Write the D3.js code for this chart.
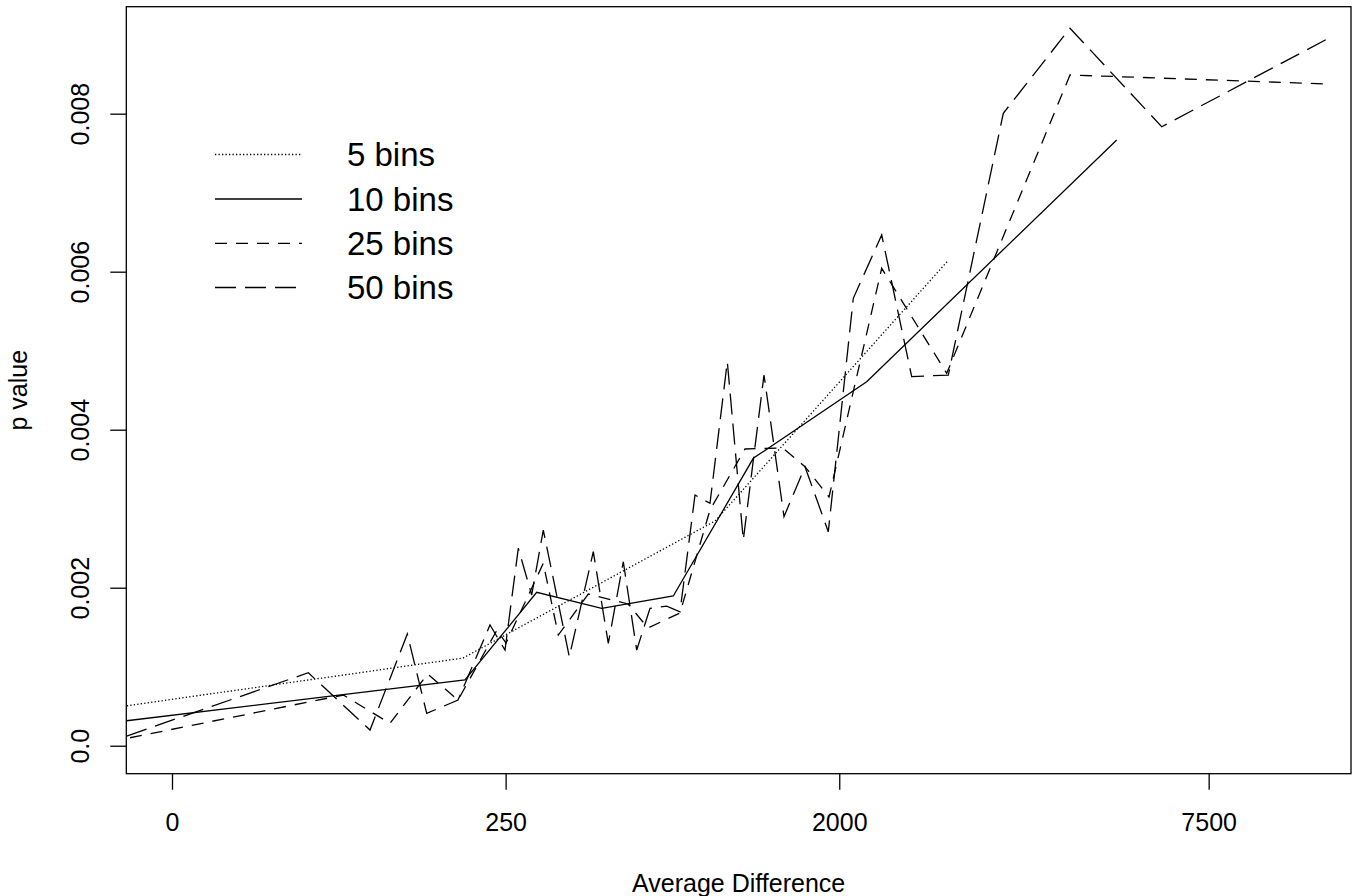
<!DOCTYPE html>
<html><head><meta charset="utf-8">
<script src="https://cdn.jsdelivr.net/npm/d3@7"></script>
<style>
body{margin:0;background:#fff}
svg{display:block}
text{font-family:"Liberation Sans",Arial,Helvetica,sans-serif;fill:#000}
</style>
</head><body>
<svg id="chart" width="1354" height="896"></svg>
<script>
// ---- data ----
const xTicks = [0, 250, 2000, 7500];
const yTicks = [0, 0.002, 0.004, 0.006, 0.008];
const yTickLabels = ["0.0", "0.002", "0.004", "0.006", "0.008"];
const xLimits = [-0.6425, 11033];
const yLimits = [-0.000354, 0.009354];
const seriesNames = ["5 bins", "10 bins", "25 bins", "50 bins"];

const bins5X = [-0.62, 165.9, 1077.9, 3142.3];
const bins5P = [0.000506, 0.001110, 0.002844, 0.006135];

const bins10X = [-0.626, 169.3, 326.6, 534.1, 848.1, 1322.3, 2257, 5676];
const bins10P = [0.000316, 0.000832, 0.001942, 0.001739, 0.001895, 0.003638, 0.004608, 0.007667];

const bins25X = [-0.499, 33.84, 69.74, 112.55, 157.49, 231.1, 250.84, 344.62, 388.09, 485.72, 638.35,
                 726.06, 882.55, 1048.3, 1266.5, 1535.6, 1707.5, 1909.2, 2406.5, 3130.1, 4875.1, 10365];
const bins25P = [0.000101, 0.000642, 0.000284, 0.000908, 0.000578, 0.001465, 0.001300, 0.002309, 0.001401, 0.001920, 0.001794,
                 0.001490, 0.001680, 0.002984, 0.003756, 0.003768, 0.003532, 0.003148, 0.006043, 0.004714, 0.008490, 0.008376];

const bins50X = [-0.626, 17.05, 52.26, 87.71, 111.24, 157.49, 216.49, 248.59, 279.58, 313.31, 344.62, 422.2,
                 503.43, 559.14, 618.8, 675.58, 735.26, 815.04, 882.55, 963.09, 1048.34, 1152.76, 1255.3, 1396.7,
                 1543.2, 1707.5, 1903.1, 2128.9, 2406.5, 2724.8, 3149.6, 3867.5, 4875.1, 6526.3, 10365];
const bins50P = [0.000123, 0.000924, 0.000199, 0.001414, 0.000410, 0.000578, 0.001528, 0.001211, 0.002499, 0.001908, 0.002730, 0.001127,
                 0.002456, 0.001296, 0.002329, 0.001211, 0.001739, 0.001768, 0.001696, 0.003173, 0.003068, 0.004861, 0.002604, 0.004692,
                 0.002899, 0.003532, 0.002709, 0.005663, 0.006465, 0.004671, 0.004692, 0.008005, 0.009081, 0.007835, 0.008942];

// ---- layout / style ----
const box = {left: 126.3, right: 1351, top: 6.7, bottom: 773.7};
const dashes = ["1.3,2.2", null, "12,9", "21,9"];
const lineW = 1.3;

const svg = d3.select("#chart");
const x = d3.scalePow().exponent(1/3).domain(xLimits).range([box.left, box.right]);
const y = d3.scaleLinear().domain(yLimits).range([box.bottom, box.top]);

const series = [
  bins5X.map((v,i)=>[v, bins5P[i]]),
  bins10X.map((v,i)=>[v, bins10P[i]]),
  bins25X.map((v,i)=>[v, bins25P[i]]),
  bins50X.map((v,i)=>[v, bins50P[i]])
];

svg.append("defs").append("clipPath").attr("id","clip").append("rect")
  .attr("x", box.left).attr("y", box.top)
  .attr("width", box.right-box.left).attr("height", box.bottom-box.top);

const line = d3.line().x(d=>x(d[0])).y(d=>y(d[1]));
const g = svg.append("g").attr("clip-path","url(#clip)");
series.forEach((s,i)=>{
  g.append("path").datum(s).attr("d", line)
    .attr("fill","none").attr("stroke","#000").attr("stroke-width", lineW)
    .attr("stroke-dasharray", dashes[i]).attr("stroke-linejoin","miter");
});

// frame
svg.append("rect").attr("x", box.left).attr("y", box.top)
  .attr("width", box.right-box.left).attr("height", box.bottom-box.top)
  .attr("fill","none").attr("stroke","#000").attr("stroke-width",1.3);

// x axis
const xAxis = d3.axisBottom(x).tickValues(xTicks).tickSize(16).tickPadding(24)
  .tickFormat(d=>String(d));
const gx = svg.append("g").attr("transform",`translate(0,${box.bottom})`).call(xAxis);
gx.select(".domain").remove();
gx.selectAll(".tick line").attr("stroke","#000").attr("stroke-width",1.3);
gx.selectAll(".tick text").attr("font-size",25).attr("font-family",'"Liberation Sans",Arial,sans-serif').attr("fill","#000");

// y axis
const yAxis = d3.axisLeft(y).tickValues(yTicks).tickSize(16).tickPadding(0)
  .tickFormat((d,i)=>yTickLabels[i]);
const gy = svg.append("g").attr("transform",`translate(${box.left},0)`).call(yAxis);
gy.select(".domain").remove();
gy.selectAll(".tick line").attr("stroke","#000").attr("stroke-width",1.3);
gy.selectAll(".tick text").attr("font-size",25).attr("font-family",'"Liberation Sans",Arial,sans-serif').attr("fill","#000")
  .attr("x",null).attr("dy",null)
  .attr("text-anchor","middle")
  .attr("transform","translate(-37,0) rotate(-90)");

// titles
svg.append("text").attr("x",(box.left+box.right)/2).attr("y",892)
  .attr("text-anchor","middle").attr("font-size",25).text("Average Difference");
svg.append("text").attr("transform",`translate(27,${(box.top+box.bottom)/2}) rotate(-90)`)
  .attr("text-anchor","middle").attr("font-size",25).text("p value");

// legend
const legY = [154.5, 199, 243.3, 287.5];
const leg = svg.append("g");
seriesNames.forEach((name,i)=>{
  leg.append("line").attr("x1",215).attr("x2",302).attr("y1",legY[i]).attr("y2",legY[i])
    .attr("stroke","#000").attr("stroke-width",lineW).attr("stroke-dasharray",dashes[i]);
  leg.append("text").attr("x",347).attr("y",legY[i]+11.5).attr("font-size",33).text(name);
});
</script>
</body></html>
